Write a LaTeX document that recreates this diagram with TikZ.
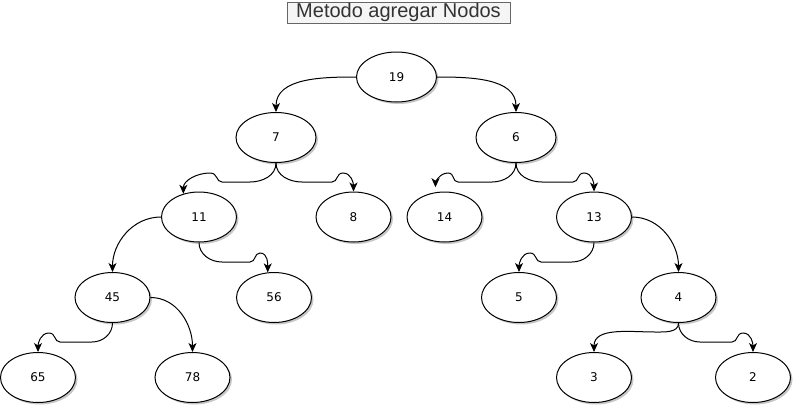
\documentclass[tikz,border=0pt]{standalone}
\usepackage{fontspec}
\newfontfamily\nodefont{DejaVu Sans}
\newfontfamily\titlefont{Liberation Sans}
\usetikzlibrary{arrows.meta,shadows,shapes.geometric}
\definecolor{titlefill}{HTML}{F5F5F5}
\definecolor{titleline}{HTML}{666666}
\definecolor{titletext}{HTML}{333333}
\begin{document}
\begin{tikzpicture}[x=1pt,y=-1pt,
  nd/.style={ellipse,draw=black,line width=1pt,fill=white,minimum width=75pt,minimum height=50pt,inner sep=0pt,
    font={\nodefont\fontsize{12}{14}\selectfont},
    drop shadow={shadow xshift=2pt,shadow yshift=-2pt,opacity=0.22,fill=black}},
  bignd/.style={nd,minimum width=80pt},
  conn/.style={line width=1pt,-{Stealth[length=9pt,width=8pt,inset=2.5pt]}},
  titlebox/.style={draw=titleline,fill=titlefill,text=titletext,line width=1pt,minimum width=223pt,minimum height=21pt,inner sep=0pt,
    font={\titlefont\fontsize{20}{22}\selectfont}}]
\useasboundingbox (0,0) rectangle (794,407);

\node[titlebox] (title) at (398.5,12.5) {Metodo agregar Nodos};

\node[bignd] (n19) at (396.5,77) {19};
\node[bignd] (n7) at (276,137.5) {7};
\node[bignd] (n6) at (516,137.5) {6};
\node[nd] (n11) at (199,217) {11};
\node[nd] (n8) at (353.5,217) {8};
\node[nd] (n14) at (444.5,217) {14};
\node[nd] (n13) at (594,217) {13};
\node[nd] (n45) at (112.5,297.5) {45};
\node[nd] (n56) at (274,297.5) {56};
\node[nd] (n5) at (519,297.5) {5};
\node[nd] (n4) at (678.5,297.5) {4};
\node[nd] (n65) at (38,377.5) {65};
\node[nd] (n78) at (192.5,377.5) {78};
\node[nd] (n3) at (594,377.5) {3};
\node[nd] (n2) at (753,377.5) {2};

% level 1
\draw[conn] (n19.west) to[out=180,in=90] (n7.north);
\draw[conn] (n19.east) to[out=0,in=90] (n6.north);

% 7 children
\draw[conn] (n7.south) to[out=-90,in=0] (250,182) -- (222,182)
  .. controls (216,182) and (218,173) .. (210,173) to[out=180,in=90] (n11.124);
\draw[conn] (n7.south) to[out=-90,in=180] (302,182) -- (332,182)
  .. controls (338,182) and (336,173) .. (343,173) to[out=0,in=90] (n8.north);

% 6 children
\draw[conn,shorten >=5pt] (n6.south) to[out=-90,in=0] (492,182) -- (458,182)
  .. controls (452,182) and (455,173) .. (448,173) to[out=180,in=90] (n14.110);
\draw[conn] (n6.south) to[out=-90,in=180] (542,182) -- (573,182)
  .. controls (579,182) and (577,173) .. (584,173) to[out=0,in=90] (n13.north);

% 11 children
\draw[conn] (n11.west) to[out=180,in=90] (n45.north);
\draw[conn] (n11.south) to[out=-90,in=180] (222,262) -- (250,262)
  .. controls (256,262) and (254,253) .. (260,253) to[out=0,in=90] (n56.104);

% 13 children
\draw[conn] (n13.south) to[out=-90,in=0] (572,262) -- (541,262)
  .. controls (535,262) and (537,253) .. (530,253) to[out=180,in=90] (n5.north);
\draw[conn] (n13.east) to[out=0,in=90] (n4.north);

% 45 children
\draw[conn] (n45.south) to[out=-90,in=0] (92,342) -- (60,342)
  .. controls (54,342) and (56,333) .. (49,333) to[out=180,in=90] (n65.north);
\draw[conn] (n45.east) to[out=0,in=90] (n78.north);

% 4 children
\draw[conn] (n4.south) to[out=-90,in=0] (655,332) to[out=180,in=90] (n3.north);
\draw[conn] (n4.south) to[out=-90,in=180] (700,342) -- (732,342)
  .. controls (738,342) and (736,333) .. (743,333) to[out=0,in=90] (n2.north);
\end{tikzpicture}
\end{document}
